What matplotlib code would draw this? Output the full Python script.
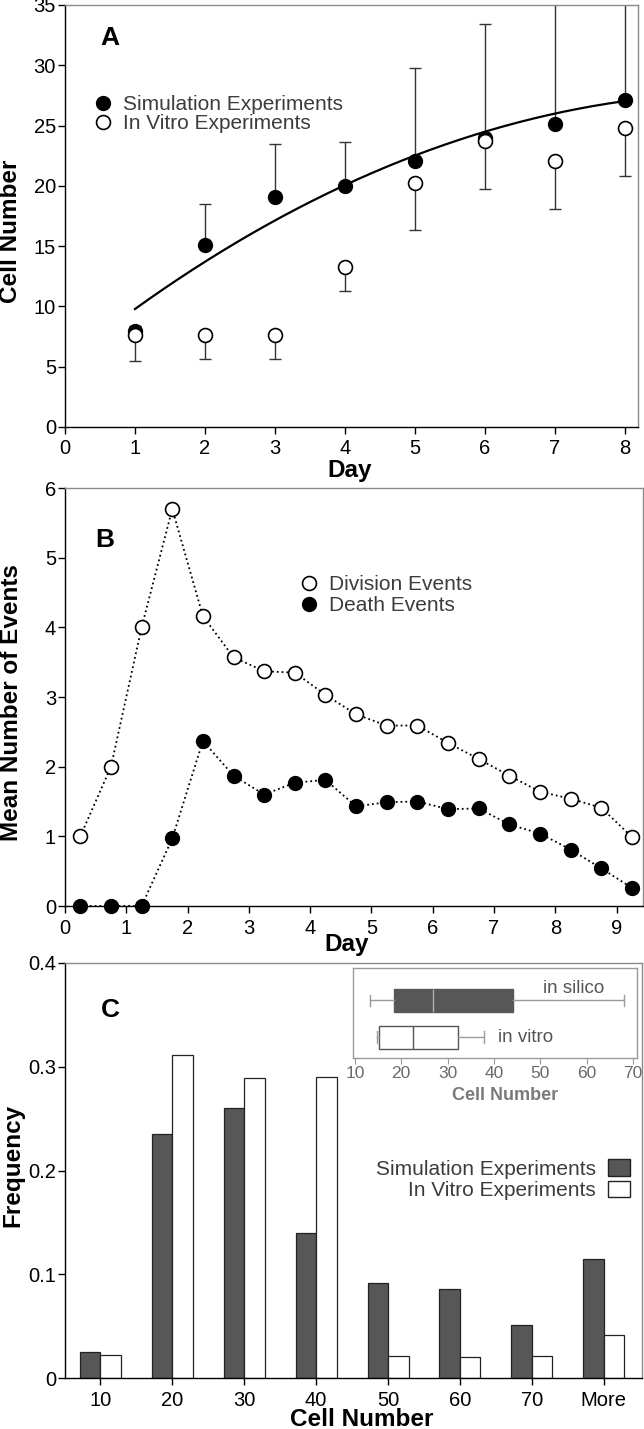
import numpy as np
import matplotlib
matplotlib.use('Agg')
import matplotlib.pyplot as plt
from matplotlib.patches import Patch
from matplotlib.lines import Line2D

plt.rcParams['font.family'] = ['Liberation Sans', 'DejaVu Sans']

# ---- panel A data
days_a = [1, 2, 3, 4, 5, 6, 7, 8]
sim_cells = [8.0, 15.1, 19.1, 20.0, 22.1, 24.0, 25.1, 27.1]
sim_upper = [8.4, 18.5, 23.5, 23.6, 29.8, 33.4, 38.0, 40.0]
vitro_cells = [7.6, 7.6, 7.6, 13.3, 20.2, 23.7, 22.1, 24.8]
vitro_lower = [5.5, 5.6, 5.6, 11.3, 16.3, 19.7, 18.1, 20.8]
fit_days = [1, 1.5, 2, 2.5, 3, 3.5, 4, 4.5, 5, 5.5, 6, 6.5, 7, 7.5, 8]
fit_cells = [9.8, 11.8, 13.6, 15.5, 17.3, 18.7, 19.9, 21.3, 22.5, 23.6, 24.5, 25.3, 26.0, 26.6, 27.0]

# ---- panel B data
days_b = [0.25, 0.75, 1.25, 1.75, 2.25, 2.75, 3.25, 3.75, 4.25, 4.75,
          5.25, 5.75, 6.25, 6.75, 7.25, 7.75, 8.25, 8.75, 9.25]
division = [1.0, 2.0, 4.0, 5.7, 4.16, 3.57, 3.37, 3.35, 3.03, 2.75,
            2.59, 2.59, 2.34, 2.11, 1.87, 1.64, 1.54, 1.41, 0.99]
death = [0.0, 0.0, 0.0, 0.97, 2.37, 1.87, 1.60, 1.77, 1.81, 1.43,
         1.49, 1.50, 1.39, 1.40, 1.17, 1.04, 0.81, 0.54, 0.26]

# ---- panel C data
bins = ['10', '20', '30', '40', '50', '60', '70', 'More']
freq_sim = [0.0255, 0.2355, 0.260, 0.140, 0.0917, 0.0858, 0.0513, 0.1146]
freq_vitro = [0.022, 0.311, 0.289, 0.290, 0.021, 0.020, 0.021, 0.041]

# inset box plot stats (low whisker, q1, median, q3, high whisker)
silico_box = [13.2, 18.4, 26.8, 44.2, 68.0]
vitro_box = [14.7, 15.3, 22.6, 32.3, 37.8]

W, H = 644, 1429
fig = plt.figure(figsize=(W / 100, H / 100), dpi=100)


def rect(l, t, r, b):
    return [l / W, 1 - b / H, (r - l) / W, (b - t) / H]


def fx(px):
    return px / W


def fy(py):
    return 1 - py / H


gray_spine = '#8a8a8a'
txt_gray = '#3c3c3c'
TICK_FS = 14.5
LEG_FS = 15
LAB_FS = 17.5


def style_axes(ax):
    ax.spines['top'].set_color(gray_spine)
    ax.spines['right'].set_color(gray_spine)
    for s in ax.spines.values():
        s.set_linewidth(1.0)
    ax.tick_params(direction='out', length=5, width=1, labelsize=TICK_FS)
    ax.tick_params(axis='x', pad=4)
    ax.tick_params(axis='y', pad=1.5)


# ================= Panel A
axA = fig.add_axes(rect(65, 5, 638, 427))
style_axes(axA)
sim_cells = np.array(sim_cells)
vitro_cells = np.array(vitro_cells)
axA.errorbar(days_a, sim_cells, yerr=[np.zeros(8), np.array(sim_upper) - sim_cells],
             fmt='none', ecolor='#333333', elinewidth=1, capsize=4.5, capthick=1, zorder=2)
axA.errorbar(days_a, vitro_cells, yerr=[vitro_cells - np.array(vitro_lower), np.zeros(8)],
             fmt='none', ecolor='#333333', elinewidth=1, capsize=4.5, capthick=1, zorder=2)
coef = np.polyfit(fit_days, fit_cells, 3)
xx = np.linspace(fit_days[0], fit_days[-1], 200)
axA.plot(xx, np.polyval(coef, xx), color='black', lw=1.6, zorder=3)
axA.plot(days_a, sim_cells, 'o', ms=10, mfc='black', mec='black', zorder=4)
axA.plot(days_a, vitro_cells, 'o', ms=10, mfc='white', mec='black', mew=1.2, zorder=5)
axA.set_xlim(0, 8.19)
axA.set_ylim(0, 35)
axA.set_xticks(range(0, 9))
axA.set_yticks(range(0, 36, 5))
hA = [Line2D([], [], marker='o', ls='none', ms=10, mfc='black', mec='black'),
      Line2D([], [], marker='o', ls='none', ms=10, mfc='white', mec='black', mew=1.2)]
legA = axA.legend(hA, ['Simulation Experiments', 'In Vitro Experiments'], loc='upper left',
                  bbox_to_anchor=(fx(93), fy(95)), bbox_transform=fig.transFigure,
                  frameon=False, fontsize=LEG_FS, borderpad=0, borderaxespad=0,
                  handlelength=1.0, handletextpad=0.45, labelspacing=0.0)
for t in legA.get_texts():
    t.set_color(txt_gray)
fig.text(fx(110), fy(38), 'A', fontsize=19, fontweight='bold', ha='center', va='center')
fig.text(fx(11), fy(231), 'Cell Number', fontsize=LAB_FS, fontweight='bold', rotation=90,
         ha='center', va='center')
fig.text(fx(350), fy(471), 'Day', fontsize=LAB_FS, fontweight='bold', ha='center', va='center')

# ================= Panel B
axB = fig.add_axes(rect(65, 488, 643, 906))
style_axes(axB)
axB.plot(days_b, division, ':', color='black', lw=1.3, zorder=2)
axB.plot(days_b, death, ':', color='black', lw=1.3, zorder=2)
axB.plot(days_b, division, 'o', ms=10, mfc='white', mec='black', mew=1.2, zorder=4, clip_on=False)
axB.plot(days_b, death, 'o', ms=10, mfc='black', mec='black', zorder=4, clip_on=False)
axB.set_xlim(0, 9.43)
axB.set_ylim(0, 6)
axB.set_xticks(range(0, 10))
axB.set_yticks(range(0, 7))
hB = [Line2D([], [], marker='o', ls='none', ms=10, mfc='white', mec='black', mew=1.2),
      Line2D([], [], marker='o', ls='none', ms=10, mfc='black', mec='black')]
legB = axB.legend(hB, ['Division Events', 'Death Events'], loc='upper left',
                  bbox_to_anchor=(fx(299), fy(575)), bbox_transform=fig.transFigure,
                  frameon=False, fontsize=LEG_FS, borderpad=0, borderaxespad=0,
                  handlelength=1.0, handletextpad=0.45, labelspacing=0.1)
for t in legB.get_texts():
    t.set_color(txt_gray)
fig.text(fx(105), fy(540), 'B', fontsize=19, fontweight='bold', ha='center', va='center')
fig.text(fx(12), fy(703), 'Mean Number of Events', fontsize=LAB_FS, fontweight='bold',
         rotation=90, ha='center', va='center')
fig.text(fx(347), fy(944), 'Day', fontsize=LAB_FS, fontweight='bold', ha='center', va='center')

# ================= Panel C
axC = fig.add_axes(rect(65, 963, 642, 1378))
style_axes(axC)
x = np.arange(len(bins))
bw = 0.285
axC.bar(x - bw / 2, freq_sim, bw, color='#575757', edgecolor='#222222', lw=0.9)
axC.bar(x + bw / 2, freq_vitro, bw, color='white', edgecolor='#222222', lw=0.9)
axC.set_xlim(-0.49, 7.53)
axC.set_ylim(0, 0.4)
axC.set_xticks(x)
axC.set_xticklabels(bins)
axC.set_yticks([0, 0.1, 0.2, 0.3, 0.4])
axC.set_yticklabels(['0', '0.1', '0.2', '0.3', '0.4'])
hC = [Patch(facecolor='#575757', edgecolor='#222222', lw=1),
      Patch(facecolor='white', edgecolor='#222222', lw=1)]
legC = axC.legend(hC, ['Simulation Experiments', 'In Vitro Experiments'], loc='upper right',
                  bbox_to_anchor=(fx(630), fy(1159)), bbox_transform=fig.transFigure,
                  frameon=False, fontsize=LEG_FS, borderpad=0, borderaxespad=0,
                  handlelength=1.05, handleheight=0.85, handletextpad=0.6,
                  labelspacing=0.1, markerfirst=False)
for t in legC.get_texts():
    t.set_color(txt_gray)
fig.text(fx(110), fy(1010), 'C', fontsize=19, fontweight='bold', ha='center', va='center')
fig.text(fx(13), fy(1165), 'Frequency', fontsize=LAB_FS, fontweight='bold', rotation=90,
         ha='center', va='center')
fig.text(fx(362), fy(1419), 'Cell Number', fontsize=LAB_FS, fontweight='bold',
         ha='center', va='center')

# ---- inset box plots
axI = fig.add_axes(rect(353, 968, 637, 1058))
inset_gray = '#9a9a9a'
stats = []
for vals, name in [(silico_box, 'in silico'), (vitro_box, 'in vitro')]:
    stats.append(dict(whislo=vals[0], q1=vals[1], med=vals[2], q3=vals[3],
                      whishi=vals[4], label=name, fliers=[]))
bp = axI.bxp(stats, positions=[0.64, 0.23], widths=0.25, orientation='horizontal',
             patch_artist=True, showfliers=False, capwidths=0.13,
             whiskerprops=dict(color=inset_gray, lw=1),
             capprops=dict(color=inset_gray, lw=1))
bp['boxes'][0].set(facecolor='#575757', edgecolor='#575757', lw=1)
bp['boxes'][1].set(facecolor='white', edgecolor='#555555', lw=1)
bp['medians'][0].set(color='#b0b0b0', lw=1)
bp['medians'][1].set(color='#555555', lw=1)
axI.set_xlim(9.6, 70.9)
axI.set_ylim(0, 1)
axI.set_yticks([])
axI.set_xticks(range(10, 71, 10))
for s in axI.spines.values():
    s.set_color(inset_gray)
    s.set_linewidth(1)
axI.tick_params(axis='x', direction='out', length=4, color=inset_gray, labelcolor='#6a6a6a',
                labelsize=12.5, pad=2)
for lbl in axI.get_xticklabels():
    lbl.set_family(['Liberation Sans Narrow', 'Liberation Sans'])
axI.text(50.6, 0.77, 'in silico', fontsize=13.5, color='#555555', va='center', ha='left')
axI.text(40.9, 0.23, 'in vitro', fontsize=13.5, color='#555555', va='center', ha='left')
fig.text(fx(505), fy(1096), 'Cell Number', fontsize=13, fontweight='bold', color='#7a7a7a',
         ha='center', va='center')

fig.savefig('out.png', dpi=100)
